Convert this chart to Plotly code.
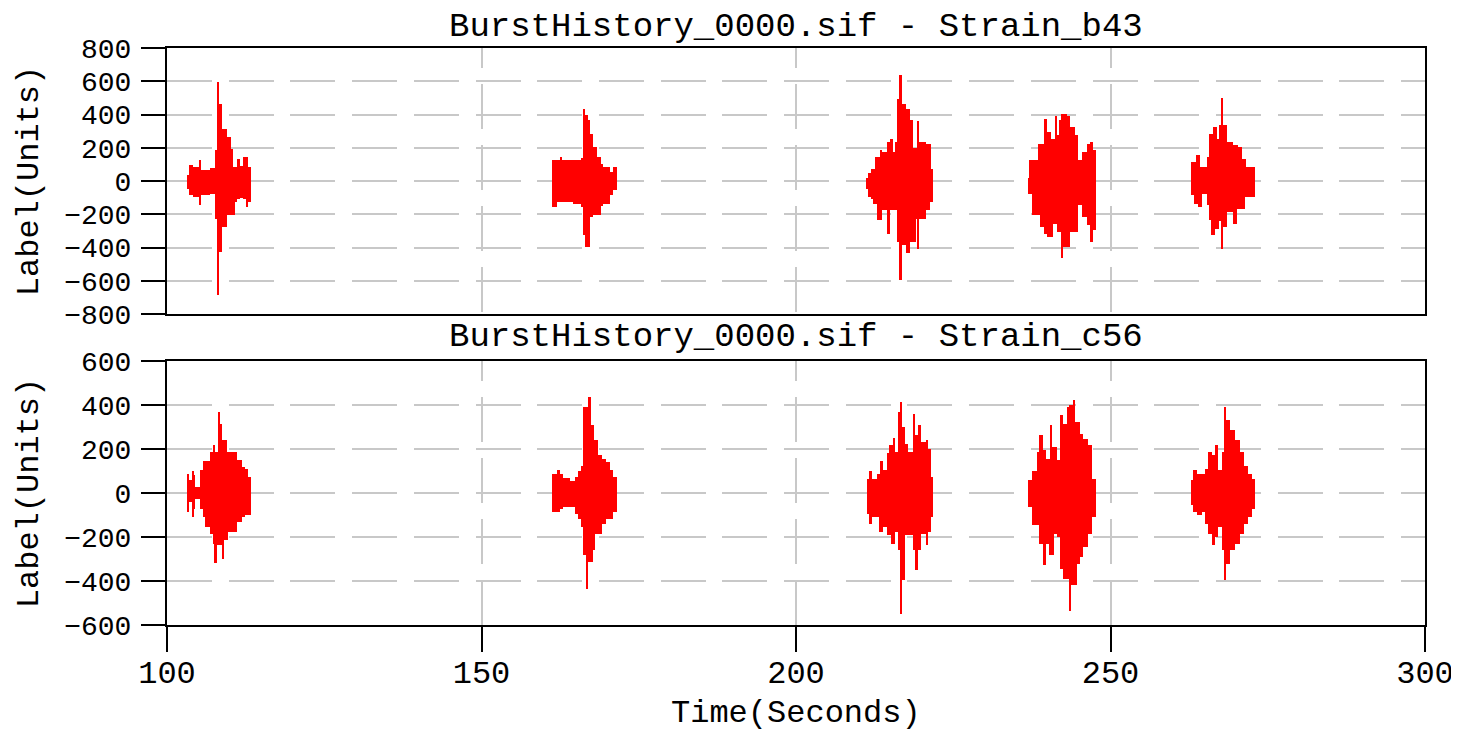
import plotly.graph_objects as go

# ---------------- data ----------------
# Each channel: breakpoint times (s), upper and lower envelope value from that
# time to the next breakpoint, and the end time of each burst.
B43_T = [103.13, 103.55, 104.19, 105.14, 105.46, 106.84, 107.63, 108.00, 108.27, 108.74,
         109.49, 110.12, 110.44, 110.76, 111.18, 111.61, 112.14, 112.56, 112.93,
         161.16, 161.95, 162.48, 162.85, 164.60, 165.93, 166.19, 166.51, 166.93, 167.25,
         167.78, 168.31, 168.95, 169.37, 170.43, 170.96,
         211.23, 211.50, 212.03, 212.29, 212.56, 212.82, 213.36, 213.62, 214.41, 214.94,
         215.37, 215.74, 216.11, 216.53, 216.80, 217.49, 218.12, 218.65, 219.08, 219.34,
         219.61, 220.67, 221.30, 221.41,
         236.94, 237.20, 237.47, 238.53, 238.79, 239.43, 239.85, 240.49, 240.91, 241.18,
         241.55, 241.97, 242.24, 242.50, 243.03, 243.56, 244.36, 244.89, 245.42, 246.21,
         246.74, 247.27,
         262.75, 263.43, 263.59, 263.96, 264.12, 264.49, 265.29, 265.71, 266.08, 266.35,
         266.61, 266.88, 267.30, 267.67, 267.94, 268.57, 269.53, 270.06, 270.32, 270.85,
         271.38, 271.54]
B43_HI = [34, 94, 84, 128, 64, 80, 188, 594, 464, 314,
          264, 194, 84, 84, 134, 90, 144, 144, 84,
          124, 124, 144, 128, 128, 140, 434, 400, 364, 284,
          204, 144, 100, 84, 54, 84,
          20, 48, 74, 74, 144, 144, 188, 174, 234, 254,
          174, 234, 494, 640, 464, 434, 364, 200, 200, 360,
          234, 224, 224, 74,
          20, 124, 124, 224, 224, 374, 294, 254, 254, 394,
          274, 364, 404, 404, 394, 324, 274, 124, 174, 224,
          234, 188,
          114, 114, 154, 154, 84, 84, 144, 284, 284, 324,
          324, 254, 334, 500, 334, 234, 214, 214, 204, 134,
          134, 84]
B43_LO = [-46, -86, -96, -146, -86, -80, -226, -686, -426, -276,
          -206, -206, -206, -126, -110, -100, -110, -156, -126,
          -156, -126, -126, -126, -136, -156, -326, -396, -396, -216,
          -206, -206, -150, -136, -86, -56,
          -46, -96, -110, -136, -136, -236, -236, -176, -316, -176,
          -176, -176, -366, -596, -386, -436, -366, -366, -226, -406,
          -226, -176, -126, -126,
          -76, -76, -206, -206, -276, -316, -336, -336, -256, -256,
          -306, -306, -466, -396, -396, -306, -306, -146, -216, -266,
          -366, -296,
          -86, -136, -136, -156, -156, -76, -146, -236, -326, -326,
          -286, -286, -240, -406, -276, -186, -256, -166, -166, -166,
          -96, -96]
B43_END = [113.30, 171.49, 221.83, 247.69, 272.97]

C56_T = [103.13, 103.55, 103.92, 104.29, 104.50, 105.25, 105.67, 106.04, 106.84, 107.26,
         107.63, 107.90, 108.16, 108.43, 108.69, 109.06, 109.49, 109.75, 111.08, 111.87,
         112.40, 112.93,
         161.16, 162.06, 162.48, 163.01, 164.07, 164.86, 165.39, 165.93, 166.19, 166.61,
         166.93, 167.36, 167.67, 167.89, 168.04, 168.57, 169.10, 169.79, 170.43, 170.85,
         211.23, 211.66, 212.03, 212.82, 213.25, 213.36, 213.78, 214.41, 214.94, 215.21,
         215.37, 215.74, 216.27, 216.64, 216.90, 217.33, 217.86, 218.55, 218.92, 219.45,
         219.82, 220.67, 221.04, 221.41,
         236.94, 237.47, 238.26, 238.69, 239.22, 239.75, 240.28, 240.38, 240.70, 240.91,
         241.44, 241.97, 242.50, 243.03, 243.46, 243.77, 244.09, 244.36, 244.62, 245.15,
         245.68, 246.48, 247.01,
         262.75, 263.17, 263.81, 264.49, 265.02, 265.55, 266.08, 266.61, 267.14, 267.67,
         268.10, 268.36, 269.00, 269.79, 270.59, 271.22, 271.91, 272.44]
C56_HI = [85, 58, 100, 80, 27, 103, 145, 145, 186, 217,
          186, 186, 368, 315, 239, 239, 186, 186, 148, 118,
          110, 73,
          85, 106, 88, 70, 55, 73, 100, 121, 391, 391,
          436, 308, 308, 239, 239, 171, 156, 141, 103, 73,
          65, 100, 65, 88, 88, 145, 106, 182, 217, 217,
          251, 186, 368, 414, 300, 224, 186, 361, 262, 308,
          232, 239, 201, 73,
          61, 100, 186, 262, 194, 156, 156, 308, 209, 209,
          148, 353, 315, 391, 398, 398, 424, 323, 323, 270,
          247, 217, 65,
          61, 103, 88, 88, 111, 186, 171, 217, 106, 186,
          391, 330, 285, 239, 186, 121, 88, 65]
C56_LO = [-86, -41, -109, -71, -26, -71, -109, -155, -185, -230,
          -318, -238, -238, -238, -298, -215, -215, -177, -132, -109,
          -101, -101,
          -86, -86, -71, -64, -64, -94, -117, -155, -283, -435,
          -314, -314, -261, -261, -185, -185, -139, -117, -117, -86,
          -94, -139, -109, -109, -177, -177, -155, -192, -192, -230,
          -230, -177, -261, -548, -397, -192, -192, -261, -352, -261,
          -185, -238, -177, -109,
          -64, -147, -147, -230, -329, -230, -283, -283, -283, -185,
          -200, -344, -389, -389, -536, -420, -420, -420, -321, -291,
          -245, -185, -109,
          -56, -86, -101, -86, -139, -185, -238, -200, -155, -261,
          -394, -321, -261, -230, -185, -139, -109, -71]
C56_END = [113.30, 171.49, 221.83, 247.69, 272.97]

TITLES = ["BurstHistory_0000.sif - Strain_b43", "BurstHistory_0000.sif - Strain_c56"]
X_LABEL = "Time(Seconds)"
Y_LABEL = "Label(Units)"
X_TICKS = [100, 150, 200, 250, 300]
Y_TICKS_TOP = [-800, -600, -400, -200, 0, 200, 400, 600, 800]
Y_TICKS_BOT = [-600, -400, -200, 0, 200, 400, 600]

FONT = "Liberation Mono"
RED = "#ff0000"
GRID = "#c8c8c8"


def segments(times, hi, lo, ends):
    xs, ws, bases, heights = [], [], [], []
    for i, t in enumerate(times):
        end = min(e for e in ends if e > t)
        nxt = times[i + 1] if i + 1 < len(times) and times[i + 1] < end else end
        xs.append((t + nxt) / 2.0)
        ws.append(nxt - t)
        bases.append(lo[i])
        heights.append(hi[i] - lo[i])
    return xs, ws, bases, heights


fig = go.Figure()
for (T, HI, LO, END), xa, ya in [((B43_T, B43_HI, B43_LO, B43_END), "x", "y"),
                                 ((C56_T, C56_HI, C56_LO, C56_END), "x2", "y2")]:
    xs, ws, bases, heights = segments(T, HI, LO, END)
    fig.add_trace(go.Bar(x=xs, y=heights, base=bases, width=ws, xaxis=xa, yaxis=ya,
                         marker=dict(color=RED, line=dict(width=0)), showlegend=False,
                         hoverinfo="skip"))

ytick_font = dict(family=FONT, size=28, color="black")
big_font = dict(family=FONT, size=32, color="black")
vgrid_dash = "20px,16px,45px,16px,45px,16px,45px,16px,45px,16px"
hgrid_dash = "45px,16.7px"

common_x = dict(range=[100, 300], tickvals=X_TICKS, showgrid=True, gridcolor=GRID,
                gridwidth=2, griddash=vgrid_dash, zeroline=False, showline=True,
                mirror=True, linecolor="black", linewidth=2, automargin=False)
common_y = dict(showgrid=True, gridcolor=GRID, gridwidth=2, griddash=hgrid_dash,
                zeroline=False, showline=True, mirror=True, linecolor="black",
                linewidth=2, ticks="outside", ticklen=24, tickwidth=2, tickcolor="black",
                tickfont=ytick_font, ticklabelstandoff=4, automargin=False,
                title=dict(text=Y_LABEL, font=big_font, standoff=16))

# the page body adds an 8px offset, so the figure is sized to fit beside it
fig.update_layout(
    width=1451, height=726,
    margin=dict(l=159, r=34, t=40, b=109),
    paper_bgcolor="white", plot_bgcolor="white",
    barmode="overlay", bargap=0,
    font=dict(family=FONT, color="black"),
    xaxis=dict(common_x, domain=[0, 1], anchor="y", showticklabels=False, ticks=""),
    yaxis=dict(common_y, domain=[0.539, 1], anchor="x", range=[-800, 800],
               tickvals=Y_TICKS_TOP),
    xaxis2=dict(common_x, domain=[0, 1], anchor="y2", ticks="outside", ticklen=25,
                tickwidth=2, tickcolor="black", tickfont=big_font, ticklabelstandoff=-7),
    yaxis2=dict(common_y, domain=[0, 0.4575], anchor="x2", range=[-600, 600],
                tickvals=Y_TICKS_BOT),
)

for title, yref, shift in [(TITLES[0], "y domain", 21), (TITLES[1], "y2 domain", 24)]:
    fig.add_annotation(text=title, xref="x domain", yref=yref, x=0.5, y=1,
                       yanchor="middle", yshift=shift, showarrow=False,
                       font=dict(family=FONT, size=34, color="black"))

fig.add_annotation(text=X_LABEL, xref="x2 domain", yref="y2 domain", x=0.5, y=0,
                   yanchor="middle", yshift=-88, showarrow=False, font=big_font)

fig.write_html("out.html")
